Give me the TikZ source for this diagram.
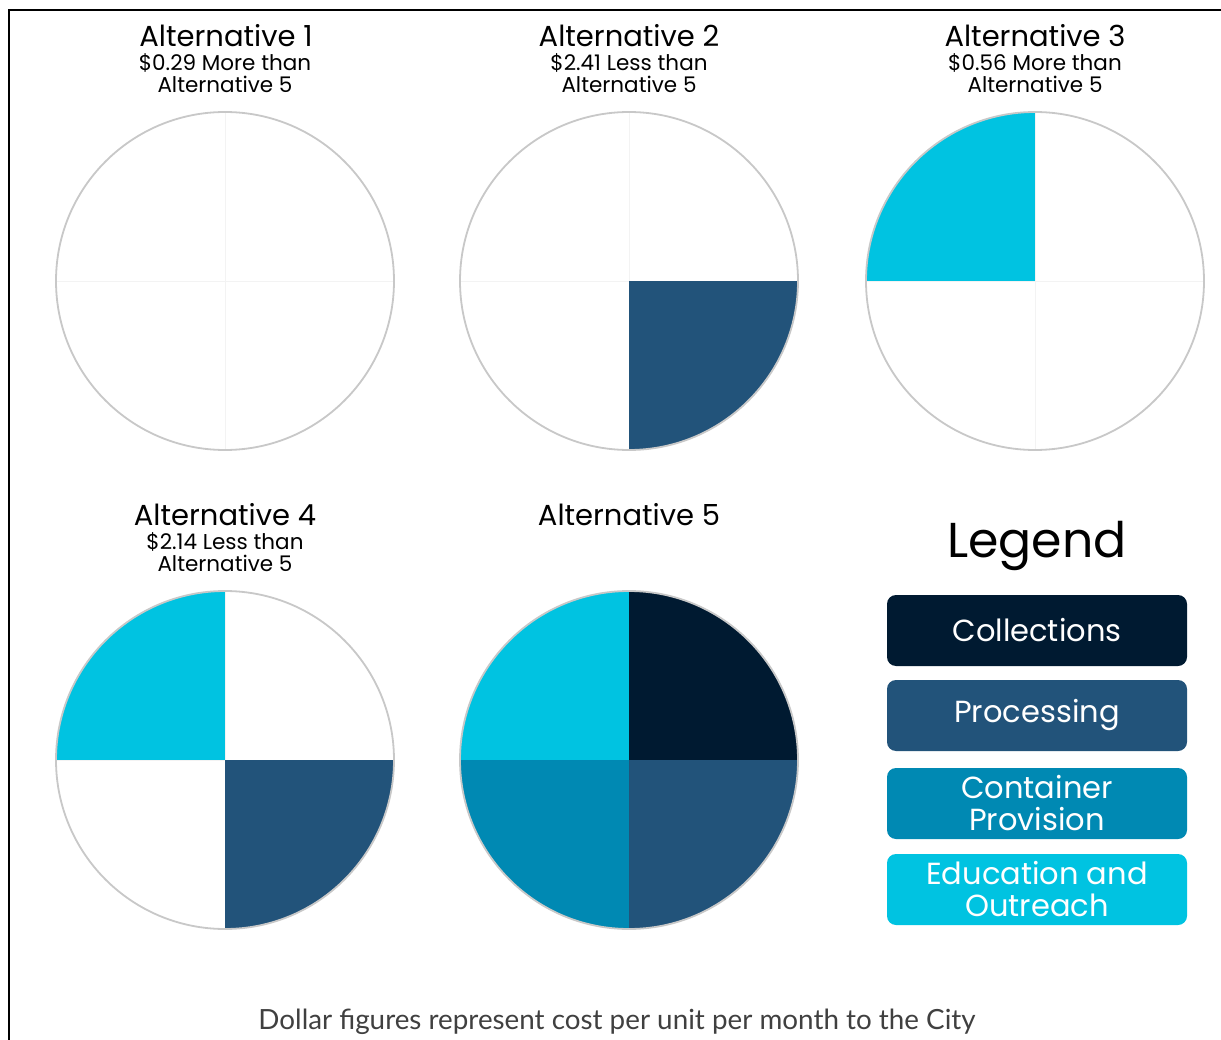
\documentclass[tikz,border=0pt]{standalone}
\usepackage{fontspec}
\setmainfont{Poppins}
\newfontfamily\bottomfont{Lato}
\definecolor{collcol}{HTML}{001A31}
\definecolor{proccol}{HTML}{22537A}
\definecolor{contcol}{HTML}{0089B3}
\definecolor{educol}{HTML}{00C3E1}
\definecolor{ringcol}{HTML}{C8C8C8}
\definecolor{crosscol}{HTML}{F3F3F3}
\definecolor{notecol}{HTML}{404040}
\tikzset{
  titletext/.style={font=\fontsize{29}{32}\selectfont, inner sep=0pt, anchor=center},
  subtext/.style={font=\fontsize{21.5}{22}\selectfont, inner sep=0pt, align=center, anchor=center},
  ring/.style={circle, draw=ringcol, line width=1.8pt, minimum size=338pt, inner sep=0pt},
  legbox/.style={rounded corners=9pt, minimum width=300pt, minimum height=71pt, inner sep=0pt,
     text=white, align=center, font=\fontsize{30.5}{32}\selectfont},
}
\newcommand\mypie[7]{%
  \begin{scope}
    \clip (#2,#3) circle[radius=169];
    \draw[crosscol, line width=0.8pt] (#2-170,#3) -- (#2+170,#3);
    \draw[crosscol, line width=0.8pt] (#2,#3-170) -- (#2,#3+170);
    \path[fill=#4] (#2-170,#3-170) rectangle (#2,#3);
    \path[fill=#5] (#2,#3-170) rectangle (#2+170,#3);
    \path[fill=#6] (#2-170,#3) rectangle (#2,#3+170);
    \path[fill=#7] (#2,#3) rectangle (#2+170,#3+170);
  \end{scope}
  \node[ring] (#1) at (#2,#3) {};
}
\begin{document}
\begin{tikzpicture}[x=1pt,y=-1pt]
\useasboundingbox (0,0) rectangle (1221,1040);
\fill[white] (0,0) rectangle (1221,1040);
\draw[line width=2.5pt] (9,1040) -- (9,10) -- (1221,10);

\mypie{p1}{225}{281}{none}{none}{none}{none}
\mypie{p2}{629}{281}{none}{none}{none}{proccol}
\mypie{p3}{1035}{281}{educol}{none}{none}{none}
\mypie{p4}{225}{760}{educol}{none}{none}{proccol}
\mypie{p5}{629}{760}{educol}{collcol}{contcol}{proccol}

\node[titletext] (t1) at (226,36) {Alternative 1};
\node[subtext] (s1) at (225,73) {\$0.29 More than\\Alternative 5};
\node[titletext] (t2) at (629,36) {Alternative 2};
\node[subtext] (s2) at (629,73) {\$2.41 Less than\\Alternative 5};
\node[titletext] (t3) at (1035,36) {Alternative 3};
\node[subtext] (s3) at (1035,73) {\$0.56 More than\\Alternative 5};
\node[titletext] (t4) at (225,515) {Alternative 4};
\node[subtext] (s4) at (225,552) {\$2.14 Less than\\Alternative 5};
\node[titletext] (t5) at (629,515) {Alternative 5};

\node[font=\fontsize{49}{52}\selectfont, inner sep=0pt] (leg) at (1037,546) {Legend};
\node[legbox, fill=collcol] (b1) at (1037,630.5) {Collections};
\node[legbox, fill=proccol] (b2) at (1037,715.5) {Processing};
\node[legbox, fill=contcol] (b3) at (1037,803.5) {Container\\Provision};
\node[legbox, fill=educol] (b4) at (1037,889.5) {Education and\\Outreach};

\node[font=\bottomfont\fontsize{27.8}{30}\selectfont, text=notecol, inner sep=0pt] (note) at (617,1022) {Dollar figures represent cost per unit per month to the City};
\end{tikzpicture}
\end{document}
